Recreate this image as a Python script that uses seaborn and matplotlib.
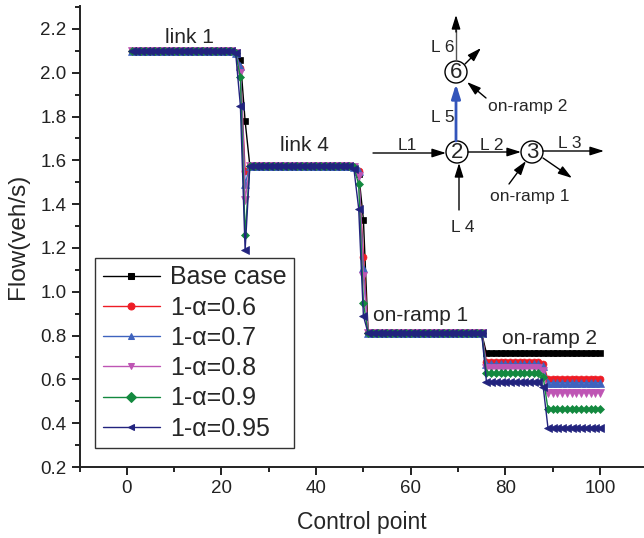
import numpy as np
import pandas as pd
import matplotlib
matplotlib.use("Agg")
import matplotlib.pyplot as plt
import seaborn as sns
from matplotlib.patches import Circle

# ---- data: flow at each control point (1..100) ----
control_points = list(range(1, 101))

base_case = ([2.10] * 22 + [2.09, 2.06, 1.78] + [1.575] * 22 + [1.57, 1.54, 1.33]
             + [0.81] * 25 + [0.72] * 25)
alpha_06 = ([2.10] * 22 + [2.09, 2.02, 1.55] + [1.575] * 22 + [1.57, 1.55, 1.16]
            + [0.81] * 25 + [0.68] * 12 + [0.67] + [0.60] * 12)
alpha_07 = ([2.10] * 22 + [2.09, 2.03, 1.49] + [1.575] * 22 + [1.57, 1.55, 1.11]
            + [0.81] * 25 + [0.67] * 12 + [0.66] + [0.585] * 12)
alpha_08 = ([2.10] * 22 + [2.09, 2.00, 1.42] + [1.575] * 22 + [1.57, 1.53, 1.07]
            + [0.81] * 25 + [0.65] * 12 + [0.64] + [0.54] * 12)
alpha_09 = ([2.10] * 22 + [2.09, 1.98, 1.26] + [1.575] * 22 + [1.57, 1.49, 0.95]
            + [0.81] * 25 + [0.63] * 12 + [0.61] + [0.465] * 12)
alpha_095 = ([2.10] * 22 + [2.09, 1.85, 1.19] + [1.575] * 22 + [1.56, 1.38, 0.89]
             + [0.81] * 25 + [0.59] * 12 + [0.565] + [0.38] * 12)

series_names = ["Base case", "1-α=0.6", "1-α=0.7", "1-α=0.8", "1-α=0.9", "1-α=0.95"]
series_values = [base_case, alpha_06, alpha_07, alpha_08, alpha_09, alpha_095]
series_colors = ["#000000", "#EE1C25", "#3F63BE", "#BE55B4", "#13893F", "#22237E"]
series_markers = ["s", "o", "^", "v", "D", "<"]
marker_sizes = [5.0, 5.0, 5.5, 5.5, 4.5, 5.5]

df = pd.concat(
    [pd.DataFrame({"Control point": control_points, "Flow": vals, "case": name})
     for name, vals in zip(series_names, series_values)],
    ignore_index=True,
)

# ---- figure ----
sns.set_theme(style="ticks")
plt.rcParams["font.family"] = ["Liberation Sans", "DejaVu Sans"]

W, H = 644, 538
fig = plt.figure(figsize=(W / 100, H / 100), dpi=100)
ax_l, ax_r, ax_t, ax_b = 79.5, 644, 6, 467
ax = fig.add_axes([ax_l / W, 1 - ax_b / H, (ax_r - ax_l) / W, (ax_b - ax_t) / H])

palette = dict(zip(series_names, series_colors))
markers = dict(zip(series_names, series_markers))
sns.lineplot(data=df, x="Control point", y="Flow", hue="case", style="case",
             hue_order=series_names, style_order=series_names,
             palette=palette, markers=markers, dashes=False,
             linewidth=1.0, markersize=5, ax=ax)
for line, ms in zip(ax.lines, marker_sizes):
    line.set_markeredgecolor(line.get_color())
    line.set_markerfacecolor(line.get_color())
    line.set_markeredgewidth(0.5)
    line.set_markersize(ms)

ax.set_xlim(-10, 109.3)
ax.set_ylim(0.2, 2.305)
ax.set_xticks(np.arange(0, 101, 20))
ax.set_xticks(np.arange(-10, 110, 10), minor=True)
ax.set_yticks(np.arange(0.2, 2.21, 0.2))
ax.set_yticks(np.arange(0.3, 2.31, 0.2), minor=True)
ax.yaxis.set_major_formatter(matplotlib.ticker.FormatStrFormatter("%.1f"))
ax.tick_params(which="major", direction="out", length=6, width=1.4, labelsize=13.5,
               colors="#222222", labelcolor="#222222")
ax.tick_params(which="minor", direction="out", length=3.5, width=1.4, colors="#222222")
sns.despine(ax=ax)
for s in ("left", "bottom"):
    ax.spines[s].set_linewidth(1.4)
    ax.spines[s].set_color("#222222")
ax.set_xlabel("Control point", fontsize=16.5, labelpad=10)
ax.set_ylabel("Flow(veh/s)", fontsize=17.5, labelpad=8)

handles, labels = ax.get_legend_handles_labels()
leg = ax.legend(handles, labels, loc="lower left", bbox_to_anchor=(0.0275, 0.041),
                borderaxespad=0, fontsize=18, frameon=True, fancybox=False,
                edgecolor="black", handlelength=2.3, handletextpad=0.4,
                labelspacing=0.25, borderpad=0.3)
leg.get_frame().set_linewidth(1.0)
for h in leg.legend_handles:
    h.set_markersize(5)
    h.set_markeredgecolor(h.get_color())
    h.set_markerfacecolor(h.get_color())

# segment labels
ax.text(13.3, 2.16, "link 1", fontsize=15, ha="center", va="center")
ax.text(37.6, 1.67, "link 4", fontsize=15, ha="center", va="center")
ax.text(62.0, 0.89, "on-ramp 1", fontsize=15, ha="center", va="center")
ax.text(89.4, 0.785, "on-ramp 2", fontsize=15, ha="center", va="center")

# ---- network sketch (pixel coordinates overlay) ----
ov = fig.add_axes([0, 0, 1, 1], facecolor="none")
ov.set_xlim(0, W)
ov.set_ylim(H, 0)
ov.axis("off")

def arrow(x0, y0, x1, y1, color="black", lw=1.0):
    ov.annotate("", xy=(x1, y1), xytext=(x0, y0),
                arrowprops=dict(arrowstyle="-|>,head_length=0.7,head_width=0.22",
                                color=color, lw=lw, shrinkA=0, shrinkB=0))

r = 11
nodes = {"2": (457, 152), "3": (532, 152), "6": (456, 72)}
for name, (cx, cy) in nodes.items():
    ov.add_patch(Circle((cx, cy), r, facecolor="white", edgecolor="black", lw=1.0))
    ov.text(cx, cy + 1, name, fontsize=16, ha="center", va="center")

arrow(373, 153, 446, 153)                 # L1
arrow(468, 152, 521, 152)                 # L2
arrow(543, 151, 604, 151)                 # L3
arrow(459, 210, 459, 163)                 # L4
arrow(456, 141, 456, 84, color="#3355BB", lw=2.0)  # L5
ov.plot([456, 456], [61, 30], color="#555555", lw=1.0)
arrow(456, 32, 456, 15)                   # L6
arrow(465, 64, 481, 48)                   # off-ramp at node 6
arrow(486, 98, 467, 82)                   # on-ramp 2
arrow(543, 158, 572, 178)                 # off-ramp at node 3
arrow(509, 184, 526, 161)                 # on-ramp 1

fs = 12.5
ov.text(407, 146, "L1", fontsize=fs, ha="center", va="center")
ov.text(492, 145, "L 2", fontsize=fs, ha="center", va="center")
ov.text(570, 143, "L 3", fontsize=fs, ha="center", va="center")
ov.text(463, 227, "L 4", fontsize=fs, ha="center", va="center")
ov.text(443, 117, "L 5", fontsize=fs, ha="center", va="center")
ov.text(443, 48, "L 6", fontsize=fs, ha="center", va="center")
ov.text(528, 107, "on-ramp 2", fontsize=fs, ha="center", va="center")
ov.text(530, 197, "on-ramp 1", fontsize=fs, ha="center", va="center")

fig.savefig("out.png", dpi=100)
